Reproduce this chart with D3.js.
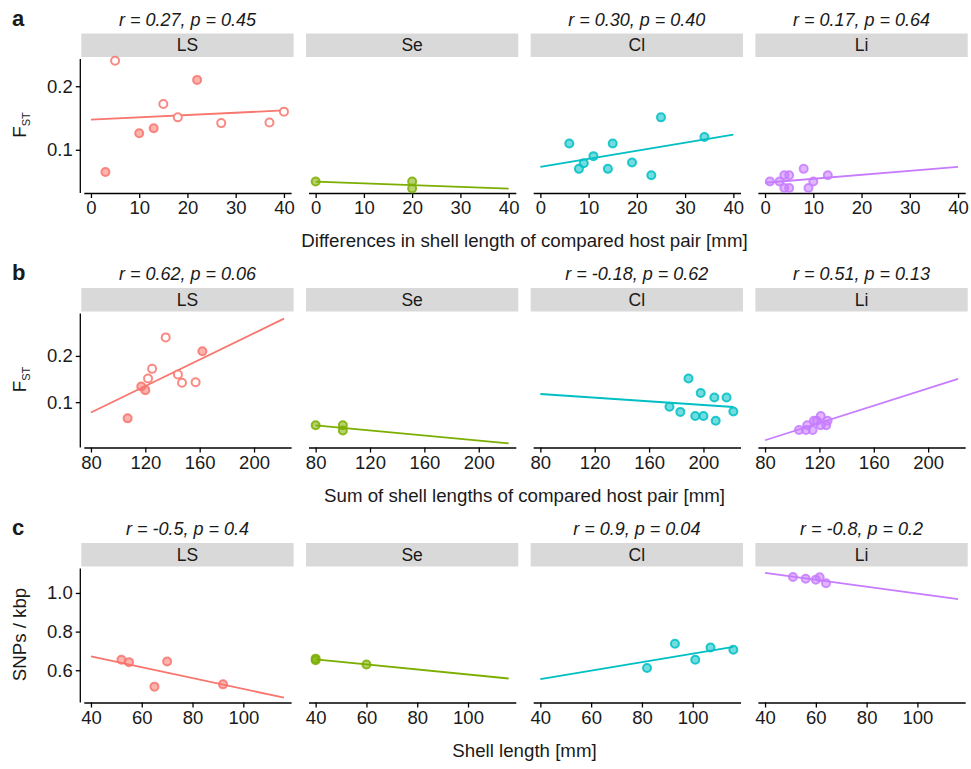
<!DOCTYPE html>
<html>
<head>
<meta charset="utf-8">
<script src="https://cdn.jsdelivr.net/npm/d3@7"></script>
<style>
  body { margin: 0; background: #fff; }
  text { font-family: 'Liberation Sans', Arial, sans-serif; fill: #1a1a1a; }
</style>
</head>
<body>
<svg id="chart" width="971" height="769"></svg>
<script>
const species = ['LS', 'Se', 'Cl', 'Li']
const colours = ['#F8766D', '#7CAE00', '#00BFC4', '#C77CFF']

// a: difference in shell length vs FST
const diffLS = [5, 22, 15, 18, 13, 10, 27, 37, 40, 3]
const fstLS = [0.240, 0.210, 0.172, 0.151, 0.134, 0.126, 0.142, 0.143, 0.160, 0.065]
const filledLS = [false, true, false, false, true, true, false, false, false, true]
const diffSe = [0, 20, 20]
const fstSe = [0.050, 0.050, 0.039]
const diffCl = [6, 8, 9, 11, 14, 15, 19, 23, 25, 34]
const fstCl = [0.110, 0.070, 0.079, 0.090, 0.070, 0.110, 0.080, 0.060, 0.151, 0.120]
const diffLi = [1, 3, 4, 5, 4, 5, 8, 9, 10, 13]
const fstLi = [0.050, 0.050, 0.060, 0.060, 0.040, 0.040, 0.070, 0.040, 0.050, 0.060]

// b: sum of shell lengths vs FST (same pairs)
const sumLS = [135, 162, 125, 122, 117, 120, 147, 157, 144, 107]
const sumSe = [80, 100, 100]
const sumCl = [208, 194, 183, 175, 200, 217, 222, 209, 189, 198]
const sumLi = [111, 121, 116, 118, 105, 110, 121, 115, 125, 126]

// c: shell length vs SNPs / kbp
const lenLS = [52, 55, 70, 65, 92]
const snpLS = [0.654, 0.642, 0.645, 0.515, 0.527]
const lenSe = [40, 40, 60]
const snpSe = [0.660, 0.652, 0.630]
const lenCl = [82, 93, 101, 107, 116]
const snpCl = [0.612, 0.737, 0.654, 0.718, 0.706]
const lenLi = [51, 56, 60, 61.5, 64]
const snpLi = [1.083, 1.074, 1.069, 1.081, 1.050]

const statsA = ['r = 0.27, p = 0.45', '', 'r = 0.30, p = 0.40', 'r = 0.17, p = 0.64']
const statsB = ['r = 0.62, p = 0.06', '', 'r = -0.18, p = 0.62', 'r = 0.51, p = 0.13']
const statsC = ['r = -0.5, p = 0.4', '', 'r = 0.9, p = 0.04', 'r = -0.8, p = 0.2']

const ticksXA = [0, 10, 20, 30, 40]
const ticksXB = [80, 120, 160, 200]
const ticksXC = [40, 60, 80, 100]
const ticksYA = [0.1, 0.2]
const ticksYC = [0.6, 0.8, 1.0]

const rows = [
  {
    letter: 'a', stats: statsA, top: 33.5,
    xs: [diffLS, diffSe, diffCl, diffLi], ys: [fstLS, fstSe, fstCl, fstLi],
    xDomain: [-2, 42], fitRange: [0, 40], yDomain: [0.032, 0.246],
    xTicks: ticksXA, yTicks: ticksYA, yLabel: 'fst',
    xLabel: 'Differences in shell length of compared host pair [mm]'
  },
  {
    letter: 'b', stats: statsB, top: 288,
    xs: [sumLS, sumSe, sumCl, sumLi], ys: [fstLS, fstSe, fstCl, fstLi],
    xDomain: [72.9, 229.1], fitRange: [80, 222], yDomain: [0.002, 0.296],
    xTicks: ticksXB, yTicks: ticksYA, yLabel: 'fst',
    xLabel: 'Sum of shell lengths of compared host pair [mm]'
  },
  {
    letter: 'c', stats: statsC, top: 543,
    xs: [lenLS, lenSe, lenCl, lenLi], ys: [snpLS, snpSe, snpCl, snpLi],
    xDomain: [36.2, 119.8], fitRange: [40, 116], yDomain: [0.433, 1.137],
    xTicks: ticksXC, yTicks: ticksYC, yLabel: 'SNPs / kbp',
    xLabel: 'Shell length [mm]'
  }
]

const panelLeft = 81.3
const panelStep = 224.7
const panelW = 212.3
const stripH = 23.5
const plotH = 136
const font = "'Liberation Sans', Arial, sans-serif"

function linearFit (xs, ys) {
  const mx = d3.mean(xs)
  const my = d3.mean(ys)
  const sxy = d3.sum(xs, (x, i) => (x - mx) * (ys[i] - my))
  const sxx = d3.sum(xs, x => (x - mx) ** 2)
  const slope = sxy / sxx
  return x => my + slope * (x - mx)
}

function styleAxis (axis) {
  axis.selectAll('line, path').attr('stroke', '#000').attr('stroke-width', 1.3)
  axis.selectAll('text').attr('font-size', 18.5).attr('fill', '#1a1a1a').style('font-family', font)
}

const svg = d3.select('#chart')
svg.append('rect').attr('width', 971).attr('height', 769).attr('fill', '#fff')

rows.forEach(row => {
  const plotTop = row.top + stripH
  const plotBottom = plotTop + plotH
  const y = d3.scaleLinear().domain(row.yDomain).range([plotBottom, plotTop])

  svg.append('text')
    .attr('x', 12).attr('y', row.top - 8)
    .attr('font-size', 22).attr('font-weight', 'bold')
    .text(row.letter)

  species.forEach((sp, i) => {
    const x0 = panelLeft + i * panelStep
    const x = d3.scaleLinear().domain(row.xDomain).range([x0, x0 + panelW])
    const g = svg.append('g').attr('class', 'panel')

    if (row.stats[i]) {
      g.append('text')
        .attr('x', x0 + panelW / 2).attr('y', row.top - 8)
        .attr('text-anchor', 'middle').attr('font-size', 18)
        .attr('font-style', 'italic')
        .text(row.stats[i])
    }

    g.append('rect')
      .attr('x', x0).attr('y', row.top)
      .attr('width', panelW).attr('height', stripH)
      .attr('fill', '#d9d9d9')
    g.append('text')
      .attr('x', x0 + panelW / 2).attr('y', row.top + 17.5)
      .attr('text-anchor', 'middle').attr('font-size', 17.5)
      .text(sp)

    // x axis
    const xAxis = g.append('g')
      .attr('transform', `translate(0,${plotBottom})`)
      .call(d3.axisBottom(x).tickValues(row.xTicks).tickSize(5).tickPadding(3).tickFormat(d3.format('d')))
    xAxis.select('.domain').attr('d', `M${x0 + 3},0.5H${x0 + panelW - 2}`)
    styleAxis(xAxis)

    if (i === 0) {
      const yAxis = g.append('g')
        .attr('transform', `translate(${x0 - 0.5},0)`)
        .call(d3.axisLeft(y).tickValues(row.yTicks).tickSize(5).tickPadding(3).tickFormat(d3.format('.1f')))
      yAxis.select('.domain').attr('d', `M-0.5,${plotTop + 2}V${plotBottom}`)
      styleAxis(yAxis)
    }

    // regression line over the full x range
    const f = linearFit(row.xs[i], row.ys[i])
    g.append('path')
      .datum(row.fitRange)
      .attr('fill', 'none')
      .attr('stroke', colours[i])
      .attr('stroke-width', 1.8)
      .attr('d', d3.line().x(d => x(d)).y(d => y(f(d))))

    const filled = (row.letter !== 'c' && i === 0) ? filledLS : null
    g.selectAll('circle')
      .data(row.xs[i].map((v, k) => ({ x: v, y: row.ys[i][k], open: filled ? !filled[k] : false })))
      .enter()
      .append('circle')
      .attr('cx', d => x(d.x))
      .attr('cy', d => y(d.y))
      .attr('r', 4)
      .attr('stroke', colours[i])
      .attr('stroke-opacity', 0.85)
      .attr('stroke-width', 2)
      .attr('fill', d => d.open ? '#fff' : colours[i])
      .attr('fill-opacity', d => d.open ? 1 : 0.55)
  })

  // y axis title
  const yMid = (plotTop + plotBottom) / 2
  const yt = svg.append('text')
    .attr('transform', `translate(26,${yMid}) rotate(-90)`)
    .attr('text-anchor', 'middle')
    .attr('font-size', 18.7)
  if (row.yLabel === 'fst') {
    yt.append('tspan').attr('font-size', 19).text('F')
    yt.append('tspan').attr('font-size', 11).attr('dy', 4).text('ST')
  } else {
    yt.text(row.yLabel)
  }

  svg.append('text')
    .attr('x', panelLeft + (3 * panelStep + panelW) / 2)
    .attr('y', plotBottom + 54)
    .attr('text-anchor', 'middle')
    .attr('font-size', 18.7)
    .text(row.xLabel)
})
</script>
</body>
</html>
